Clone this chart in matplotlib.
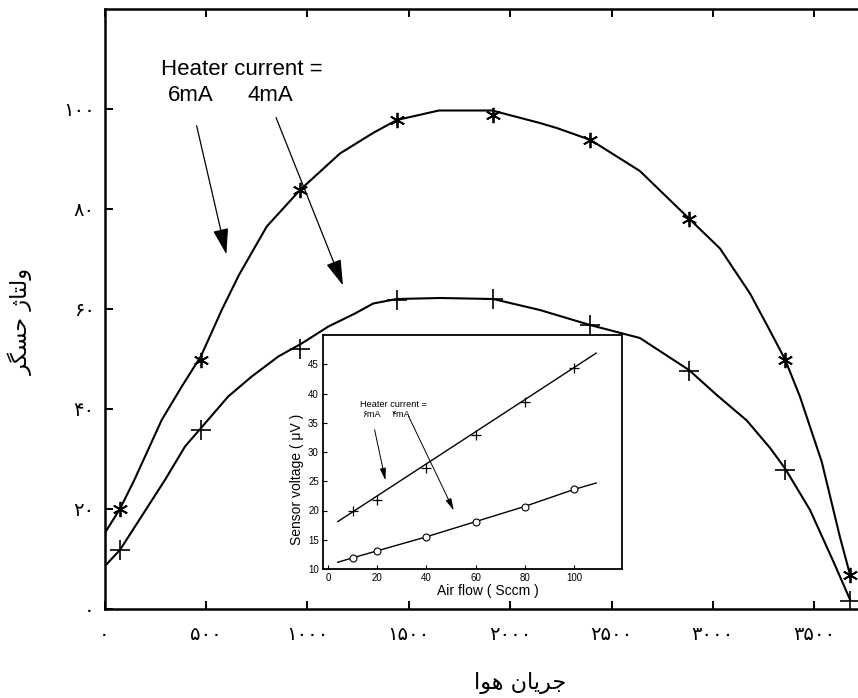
import matplotlib
matplotlib.use("Agg")
import matplotlib.pyplot as plt
from matplotlib.patches import ArrowStyle, FancyArrowPatch

plt.rcParams['font.family'] = ['Liberation Sans', 'DejaVu Sans']

# main chart: measured points (air flow in sccm, sensor voltage)
flow = [76, 476, 964, 1440, 1915, 2395, 2882, 3356, 3677]
volt_6mA = [20.0, 49.8, 83.8, 97.8, 98.8, 93.8, 78.1, 49.9, 6.9]
volt_4mA = [11.8, 35.8, 52.0, 61.8, 62.0, 56.8, 47.6, 27.9, 1.7]

# fitted curves
fit6_x = [0, 76, 147, 282, 381, 476, 578, 663, 800, 964, 1161, 1324, 1442,
          1649, 1911, 2147, 2230, 2397, 2640, 2882, 3035, 3183, 3273, 3356,
          3429, 3537, 3627, 3676]
fit6_y = [15.1, 20.0, 25.8, 37.8, 44.5, 50.6, 59.8, 66.8, 76.5, 83.8, 91.1,
          95.2, 97.8, 99.7, 99.7, 97.2, 96.2, 93.8, 87.6, 78.1, 72.1, 63.1,
          56.3, 49.9, 42.5, 29.4, 14.3, 6.9]
fit4_x = [0, 76, 298, 397, 476, 610, 726, 857, 972, 1104, 1235, 1325, 1441,
          1654, 1916, 2147, 2394, 2640, 2882, 3019, 3167, 3282, 3356, 3479,
          3594, 3676]
fit4_y = [8.5, 11.8, 25.8, 32.5, 36.2, 42.5, 46.5, 50.5, 53.1, 56.5, 59.1,
          61.1, 62.0, 62.2, 62.0, 59.8, 56.8, 54.2, 47.8, 42.8, 37.7, 32.2,
          28.1, 19.8, 9.5, 1.9]

x_ticks = [0, 500, 1000, 1500, 2000, 2500, 3000, 3500]
x_ticklabels = ['۰', '۵۰۰', '۱۰۰۰', '۱۵۰۰', '۲۰۰۰', '۲۵۰۰', '۳۰۰۰', '۳۵۰۰']
y_ticks = [0, 20, 40, 60, 80, 100]
y_ticklabels = ['۰', '۲۰', '۴۰', '۶۰', '۸۰', '۱۰۰']

# inset: low flow range
in_flow = [10, 20, 40, 60, 80, 100]
in_6mA = [20.0, 21.8, 27.3, 32.9, 38.5, 44.4]
in_4mA = [11.9, 13.1, 15.4, 18.05, 20.6, 23.6]
in_fit6_x = [4, 109]
in_fit6_y = [18.1, 46.9]
in_fit4_x = [4, 10, 20, 40, 60, 80, 100, 109]
in_fit4_y = [11.15, 11.9, 13.1, 15.5, 18.1, 20.7, 23.6, 24.7]

# persian labels, written in visual order with presentation forms
xlabel_fa = '\uFE8D\uFEEE\uFEEB \uFEE5\uFE8E\uFEF3\uFEAE\uFE9F'   # جریان هوا
ylabel_fa = '\uFEAE\uFB95\uFEB4\uFEA3 \uFB8A\uFE8E\uFE98\uFEDF\uFEED'  # ولتاژ حسگر

W, H = 858, 698
fig = plt.figure(figsize=(W / 100, H / 100), dpi=100)

# main axes (right side of original frame is cropped off)
ax = fig.add_axes([104.5 / W, (H - 609) / H, 811.2 / W, 600 / H])
ax.plot(fit6_x, fit6_y, color='black', lw=1.5)
ax.plot(fit4_x, fit4_y, color='black', lw=1.5)
ax.plot(flow, volt_6mA, ls='none', marker=(6, 2, 0), ms=11, mew=1.3, color='black')
ax.plot(flow, volt_4mA, ls='none', marker='+', ms=14, mew=1.2, color='black')

ax.set_xlim(0, 4000)
ax.set_ylim(0, 120)
ax.set_xticks(x_ticks)
ax.set_xticklabels(x_ticklabels, fontsize=14)
ax.set_yticks(y_ticks)
ax.set_yticklabels(y_ticklabels, fontsize=14)
ax.tick_params(direction='in', length=6, width=1.4, top=True, right=True)
ax.tick_params(axis='x', pad=13)
ax.tick_params(axis='y', pad=7)
for s in ax.spines.values():
    s.set_linewidth(1.8)

ax.set_xlabel(xlabel_fa, fontsize=16, family=['DejaVu Sans'])
ax.xaxis.set_label_coords((520 - 104.5) / 811.2, -0.105)
ax.set_ylabel(ylabel_fa, fontsize=16, family=['DejaVu Sans'])
ax.yaxis.set_label_coords(-0.088, 0.48)

# annotation + arrows
fig.text(161 / W, (H - 75) / H, 'Heater current =', fontsize=16, va='baseline')
fig.text(168 / W, (H - 101) / H, '6mA', fontsize=16, va='baseline')
fig.text(248 / W, (H - 101) / H, '4mA', fontsize=16, va='baseline')
big_head = ArrowStyle('-|>', head_length=0.4, head_width=0.12)
fig.add_artist(FancyArrowPatch(
    (196, H - 123), (227, H - 257), transform=None,
    arrowstyle=big_head, mutation_scale=40, lw=0.9, color='black'))
fig.add_artist(FancyArrowPatch(
    (275, H - 115), (344, H - 288), transform=None,
    arrowstyle=big_head, mutation_scale=40, lw=0.9, color='black'))

# inset
ins = fig.add_axes([323 / W, (H - 569) / H, 299 / W, 234 / H])
ins.plot(in_fit6_x, in_fit6_y, color='black', lw=1.0)
ins.plot(in_fit4_x, in_fit4_y, color='black', lw=1.0)
ins.plot(in_flow, in_6mA, ls='none', marker='+', ms=7, mew=0.9, color='black')
ins.plot(in_flow, in_4mA, ls='none', marker='o', ms=5, mew=0.8,
         mfc='white', color='black')
ins.set_xlim(-2, 119.5)
ins.set_ylim(10, 50)
ins.set_xticks([0, 20, 40, 60, 80, 100])
ins.set_yticks([10, 15, 20, 25, 30, 35, 40, 45])
ins.tick_params(direction='in', length=3, width=0.8, labelsize=7, pad=3)
for s in ins.spines.values():
    s.set_linewidth(1.3)
ins.set_xlabel('Air flow ( Sccm )', fontsize=10)
ins.xaxis.set_label_coords((488 - 323) / 299, -0.065)
ins.set_ylabel('Sensor voltage ( \u03bcV )', fontsize=10)
ins.yaxis.set_label_coords(-0.065, 0.385)

fig.text(360 / W, (H - 407) / H, 'Heater current =', fontsize=6.6, va='baseline')
fig.text(362 / W, (H - 417) / H, '\u06f6mA', fontsize=6.6, va='baseline')
fig.text(392 / W, (H - 417) / H, '\u06f4mA', fontsize=6.6, va='baseline')
small_head = ArrowStyle('-|>', head_length=0.4, head_width=0.1)
fig.add_artist(FancyArrowPatch(
    (374, H - 427), (386, H - 483), transform=None,
    arrowstyle=small_head, mutation_scale=18, lw=0.7, color='black'))
fig.add_artist(FancyArrowPatch(
    (407, H - 413), (455, H - 513), transform=None,
    arrowstyle=small_head, mutation_scale=18, lw=0.7, color='black'))

fig.savefig('out.png', dpi=100)
